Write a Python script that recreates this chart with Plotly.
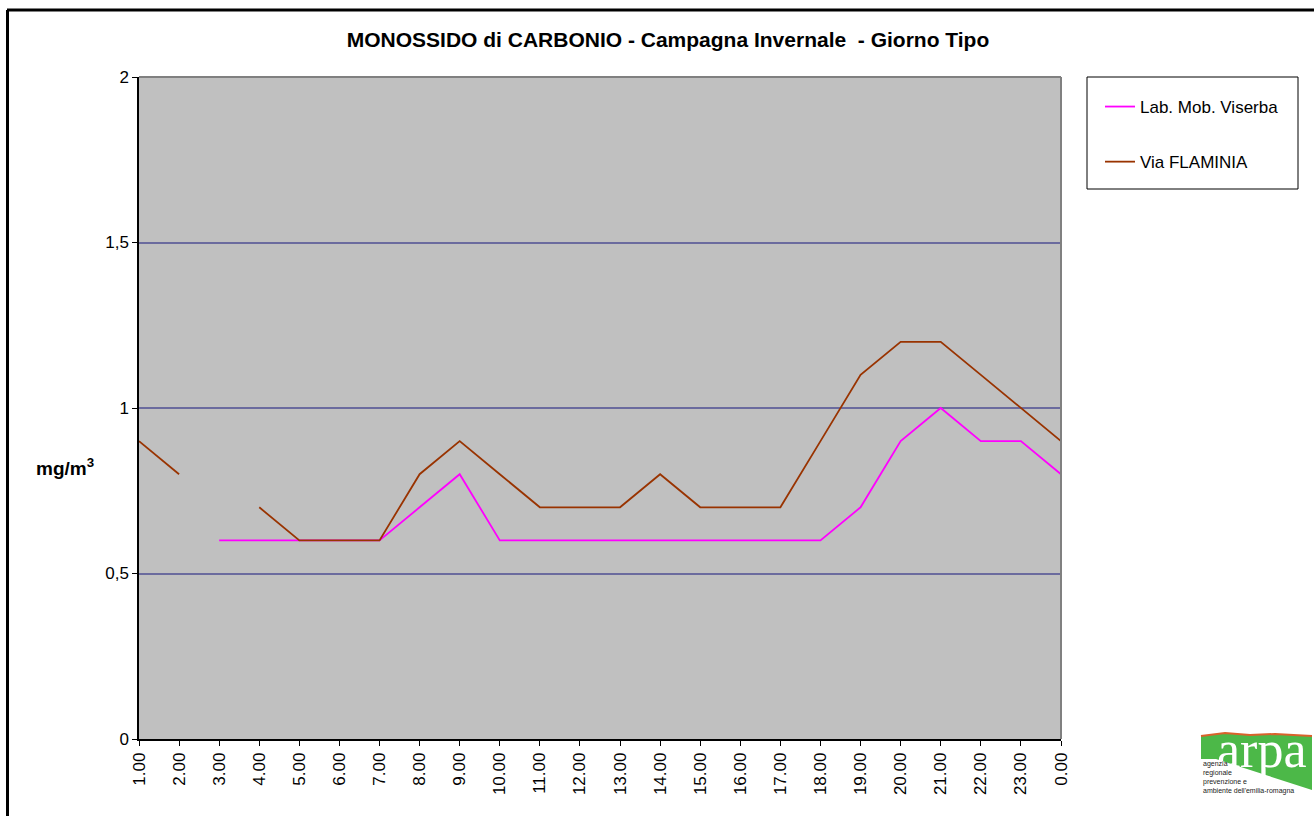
import plotly.graph_objects as go

hours = ["1.00", "2.00", "3.00", "4.00", "5.00", "6.00", "7.00", "8.00", "9.00", "10.00",
         "11.00", "12.00", "13.00", "14.00", "15.00", "16.00", "17.00", "18.00", "19.00",
         "20.00", "21.00", "22.00", "23.00", "0.00"]
viserba = [None, None, 0.6, 0.6, 0.6, 0.6, 0.6, 0.7, 0.8, 0.6,
           0.6, 0.6, 0.6, 0.6, 0.6, 0.6, 0.6, 0.6, 0.7,
           0.9, 1.0, 0.9, 0.9, 0.8]
flaminia = [0.9, 0.8, None, 0.7, 0.6, 0.6, 0.6, 0.8, 0.9, 0.8,
            0.7, 0.7, 0.7, 0.8, 0.7, 0.7, 0.7, 0.9, 1.1,
            1.2, 1.2, 1.1, 1.0, 0.9]
y_ticks = [0, 0.5, 1, 1.5, 2]

W, H = 1314, 816
L, R, T, B = 139, 1061, 77, 739


def px(x):
    return (x - L) / (R - L)


def py(y):
    return (B - y) / (B - T)


fig = go.Figure()
fig.add_trace(go.Scatter(x=hours, y=viserba, mode="lines", name="Lab. Mob. Viserba",
                         line=dict(color="#FF00FF", width=1.8), legendgroup="a"))
fig.add_trace(go.Scatter(x=hours, y=flaminia, mode="lines", name="Via FLAMINIA",
                         line=dict(color="#993300", width=1.8), legendgroup="b"))

font = "Arial, Liberation Sans, sans-serif"

fig.update_layout(
    width=W, height=H,
    margin=dict(l=L, r=W - R, t=T, b=H - B),
    paper_bgcolor="white",
    plot_bgcolor="#C0C0C0",
    separators=",.",
    font=dict(family=font, size=17, color="black"),
    title=dict(text="<b>MONOSSIDO di CARBONIO - Campagna Invernale  - Giorno Tipo</b>",
               x=668 / W, xanchor="center", y=1 - 40 / H, yanchor="middle",
               font=dict(size=21, family=font)),
    showlegend=True,
    legend=dict(x=px(1100), y=py(89), xanchor="left", yanchor="top",
                borderwidth=0, bgcolor="rgba(0,0,0,0)",
                font=dict(size=17, family=font), tracegroupgap=30,
                itemwidth=30),
    xaxis=dict(type="category", range=[0, len(hours) - 1], tickangle=-90,
               showline=True, linecolor="black", linewidth=1.5,
               ticks="outside", ticklen=5, tickcolor="black",
               showgrid=False, zeroline=False, tickfont=dict(size=17)),
    yaxis=dict(range=[0, 2], tickvals=y_ticks, showline=True, linecolor="black", linewidth=1.5,
               ticks="outside", ticklen=5, tickcolor="black",
               showgrid=True, gridcolor="#6B6B9E", gridwidth=1.5, zeroline=False,
               tickfont=dict(size=17)),
)

shapes = []
# plot area border (top & right gray)
shapes.append(dict(type="line", xref="paper", yref="paper", x0=0, x1=1, y0=1, y1=1,
                   line=dict(color="#808080", width=2)))
shapes.append(dict(type="line", xref="paper", yref="paper", x0=1, x1=1, y0=0, y1=1,
                   line=dict(color="#808080", width=2)))
# legend box
shapes.append(dict(type="rect", xref="paper", yref="paper", x0=px(1087), x1=px(1298),
                   y0=py(189), y1=py(77), line=dict(color="black", width=1)))
# outer chart border (top and left)
shapes.append(dict(type="line", xref="paper", yref="paper", x0=px(7), x1=px(1330),
                   y0=py(10), y1=py(10), line=dict(color="black", width=3)))
shapes.append(dict(type="line", xref="paper", yref="paper", x0=px(7.5), x1=px(7.5),
                   y0=py(10), y1=py(830), line=dict(color="black", width=3)))
# logo
pts = [(1201, 736), (1225, 733), (1250, 735), (1275, 734), (1312, 736),
       (1312, 790), (1216, 759), (1201, 759)]
path = "M " + " L ".join(f"{px(a)},{py(b)}" for a, b in pts) + " Z"
shapes.append(dict(type="path", xref="paper", yref="paper", path=path,
                   fillcolor="#4CB848", line=dict(width=0)))
top = [(1201, 736), (1225, 733), (1250, 735), (1275, 734), (1312, 736)]
tpath = "M " + " L ".join(f"{px(a)},{py(b)}" for a, b in top)
shapes.append(dict(type="path", xref="paper", yref="paper", path=tpath,
                   line=dict(color="#D9622B", width=2)))
fig.update_layout(shapes=shapes)

ann = [
    dict(text="<b>mg/m<sup>3</sup></b>", x=px(65), y=py(467), xref="paper", yref="paper",
         showarrow=False, font=dict(size=19, family=font), xanchor="center", yanchor="middle"),
    dict(text="arpa", x=px(1261), y=py(749), xref="paper", yref="paper", showarrow=False,
         font=dict(size=52, family="Liberation Serif, DejaVu Serif, serif", color="white"),
         xanchor="center", yanchor="middle"),
    dict(text="agenzia<br>regionale<br>prevenzione e<br>ambiente dell'emilia-romagna",
         x=px(1201), y=py(758), xref="paper", yref="paper", align="left",
         showarrow=False, font=dict(size=7, family=font, color="#222222"),
         xanchor="left", yanchor="top"),
]
fig.update_layout(annotations=ann)

fig.write_html("out.html")
